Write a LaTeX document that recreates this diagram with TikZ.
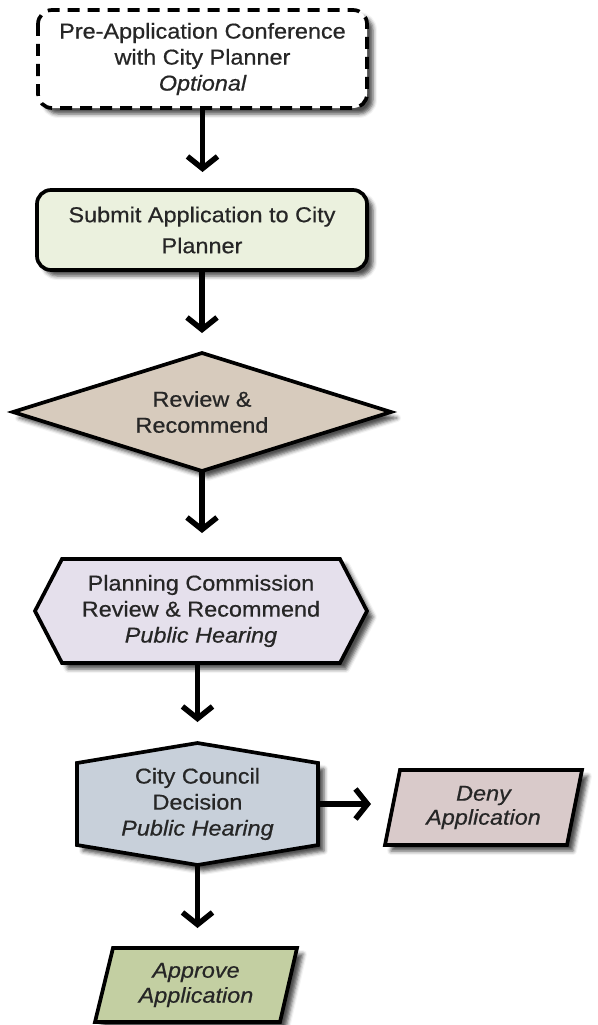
\documentclass[tikz,border=0pt]{standalone}
\usepackage{fontspec}
\setmainfont{Liberation Sans}[FakeStretch=1.09,FakeBold=0.6]
\usetikzlibrary{arrows.meta,shadows.blur}
\definecolor{subfill}{HTML}{EBF1DE}
\definecolor{revfill}{HTML}{D7CBBD}
\definecolor{pcfill}{HTML}{E5E0EC}
\definecolor{ccfill}{HTML}{C8D0DA}
\definecolor{denyfill}{HTML}{D9CACA}
\definecolor{appfill}{HTML}{C3CFA2}
\begin{document}
\begin{tikzpicture}[x=1pt,y=-1pt,
  shp/.style={draw=black, line width=3.7pt, line join=miter,
    blur shadow={shadow xshift=6pt,shadow yshift=-6pt,shadow blur radius=4pt,shadow opacity=70}},
  lbl/.style={inner sep=0pt, outer sep=0pt, align=center, text=black!85,
    font=\fontsize{21.5}{26}\selectfont},
  flow/.style={line width=5.5pt, -{Straight Barb[length=12pt,width=30pt]}},
]
\useasboundingbox (0,0) rectangle (597,1025);

% shapes
\path[shp, fill=white, rounded corners=14pt, dash pattern=on 12pt off 8pt]
  (38,10) rectangle (367,108);
\path[shp, fill=subfill, rounded corners=14pt] (37,190) rectangle (367,270);
\path[shp, fill=revfill] (13,412) -- (202,353) -- (391,412) -- (202,471) -- cycle;
\path[shp, fill=pcfill] (35,611) -- (62,559) -- (340,559) -- (367,611) -- (340,663) -- (62,663) -- cycle;
\path[shp, fill=ccfill] (197.5,743) -- (318,763) -- (318,845) -- (197.5,865) -- (77,845) -- (77,763) -- cycle;
\path[shp, fill=denyfill] (400,770) -- (582,770) -- (567,845) -- (385,845) -- cycle;
\path[shp, fill=appfill] (113,948) -- (297,948) -- (280,1022) -- (95,1022) -- cycle;

% labels
\node[lbl, minimum width=329pt, minimum height=98pt] (pre) at (202.5,59)
  {Pre-Application Conference\\with City Planner\\\itshape Optional};
\node[lbl, minimum width=330pt, minimum height=80pt,
  font=\fontsize{21.5}{31}\selectfont] (sub) at (202,230)
  {Submit Application to City\\Planner};
\node[lbl, minimum width=378pt, minimum height=118pt] (rev) at (202,412)
  {Review \&\\Recommend};
\node[lbl, minimum width=332pt, minimum height=104pt] (pc) at (201,611)
  {Planning Commission\\Review \& Recommend\\\itshape Public Hearing};
\node[lbl, minimum width=241pt, minimum height=122pt] (cc) at (197.5,804)
  {City Council\\Decision\\\itshape Public Hearing};
\node[lbl, minimum width=197pt, minimum height=75pt, font=\fontsize{21.5}{24}\selectfont\itshape]
  (deny) at (483.5,807.5) {Deny\\Application};
\node[lbl, minimum width=202pt, minimum height=74pt, font=\fontsize{21.5}{25}\selectfont\itshape]
  (app) at (196,985) {Approve\\Application};

% connectors
\draw[flow, shorten >=18pt] (pre.south) -- (pre.south |- sub.north);
\draw[flow, shorten >=20pt] (sub.south) -- (sub.south |- rev.north);
\draw[flow, shorten >=26pt] (rev.south) -- (rev.south |- pc.north);
\draw[flow, shorten >=21pt] (pc.south -| cc.north) -- (cc.north);
\draw[flow, shorten >=14pt] (cc.east) -- (cc.east -| deny.west);
\draw[flow, shorten >=20pt] (cc.south) -- (cc.south |- app.north);
\end{tikzpicture}
\end{document}
